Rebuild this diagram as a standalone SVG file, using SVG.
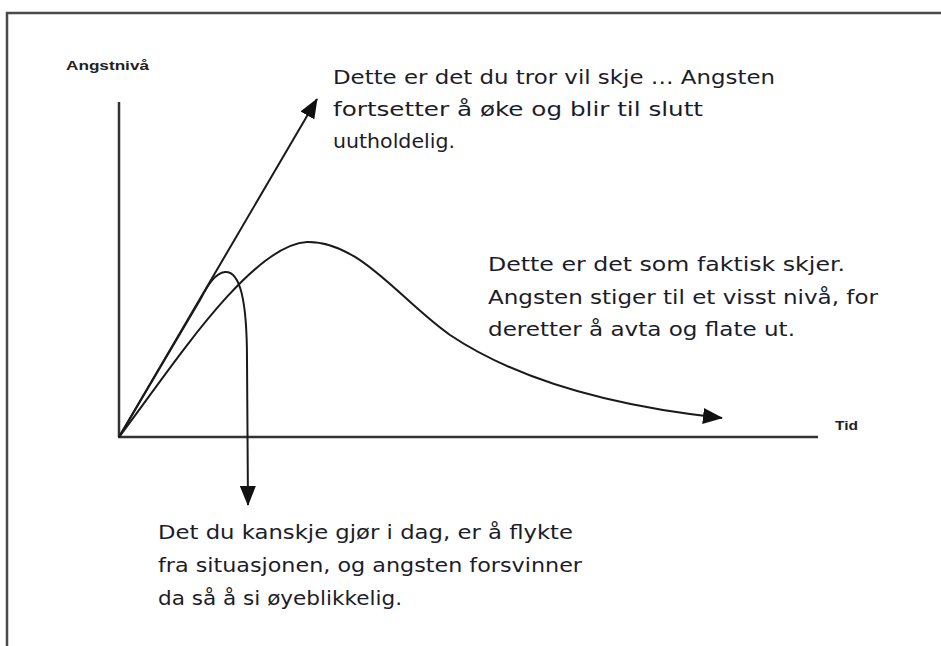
<svg xmlns="http://www.w3.org/2000/svg" width="941" height="646" viewBox="0 0 941 646">
<defs>
<marker id="ah" viewBox="0 0 20 16" refX="19" refY="8" markerWidth="20" markerHeight="16" markerUnits="userSpaceOnUse" orient="auto">
<path d="M0,0 L20,8 L0,16 z" fill="#111"/>
</marker>
<style>
.txt{font-family:"Comic Sans MS","DejaVu Sans",sans-serif;font-size:19px;fill:#1c1c28}
.lab{font-family:"Liberation Sans",Arial,sans-serif;font-size:12px;font-weight:bold;fill:#222}
.axis{stroke:#333;stroke-width:2.5;fill:none}
.cur{stroke:#1a1a1a;stroke-width:2;fill:none}
</style>
</defs>
<rect width="941" height="646" fill="#fff"/>
<g id="frame">
<path d="M7,646 L7,13 L941,13" fill="none" stroke="#4a4a4a" stroke-width="2.5"/>
</g>
<g id="axes">
<line class="axis" x1="119" y1="102" x2="119" y2="437"/>
<line class="axis" x1="118" y1="437" x2="818" y2="437"/>
<text class="lab" x="66" y="70" textLength="83" lengthAdjust="spacingAndGlyphs">Angstnivå</text>
<text class="lab" x="835" y="430" textLength="23" lengthAdjust="spacingAndGlyphs">Tid</text>
</g>
<g id="connectors">
<line class="cur" x1="119" y1="437" x2="317" y2="99" marker-end="url(#ah)"/>
<path class="cur" d="M119,437 C170,370 250,245 307,242 C360,241 400,300 450,335 C510,375 600,405 722,418" marker-end="url(#ah)"/>
<path class="cur" d="M119,437 L200,300 C208,285 215,273 225,272 C240,271 247,300 247,360 L248,505" marker-end="url(#ah)"/>
</g>
<g id="text-believe">
<text class="txt" x="333" y="84" textLength="442" lengthAdjust="spacingAndGlyphs">Dette er det du tror vil skje … Angsten</text>
<text class="txt" x="333" y="116" textLength="370" lengthAdjust="spacingAndGlyphs">fortsetter å øke og blir til slutt</text>
<text class="txt" x="333" y="148" textLength="122" lengthAdjust="spacingAndGlyphs">uutholdelig.</text>
</g>
<g id="text-actual">
<text class="txt" x="488" y="271" textLength="357" lengthAdjust="spacingAndGlyphs">Dette er det som faktisk skjer.</text>
<text class="txt" x="488" y="304" textLength="390" lengthAdjust="spacingAndGlyphs">Angsten stiger til et visst nivå, for</text>
<text class="txt" x="488" y="336" textLength="307" lengthAdjust="spacingAndGlyphs">deretter å avta og flate ut.</text>
</g>
<g id="text-flee">
<text class="txt" x="158" y="539" textLength="415" lengthAdjust="spacingAndGlyphs">Det du kanskje gjør i dag, er å flykte</text>
<text class="txt" x="158" y="572" textLength="424" lengthAdjust="spacingAndGlyphs">fra situasjonen, og angsten forsvinner</text>
<text class="txt" x="158" y="605" textLength="244" lengthAdjust="spacingAndGlyphs">da så å si øyeblikkelig.</text>
</g>
</svg>
